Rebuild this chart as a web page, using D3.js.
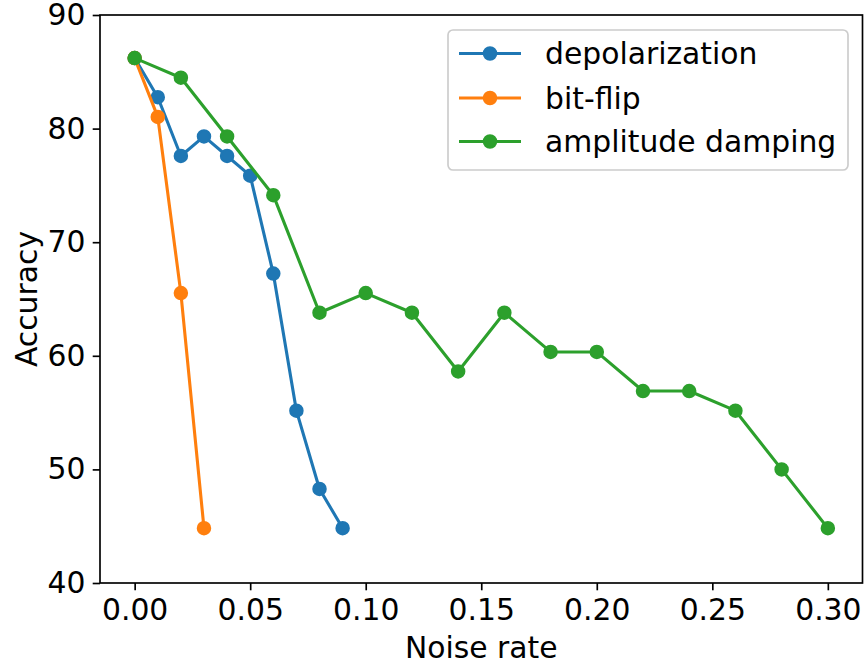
<!DOCTYPE html>
<html>
<head>
<meta charset="utf-8">
<script src="https://cdn.jsdelivr.net/npm/d3@7"></script>
<style>
  body { margin: 0; background: #fff; }
  svg { font-family: "DejaVu Sans", sans-serif; }
</style>
</head>
<body>
<div class="chart"></div>
<script>
// noise rates and accuracies
var depolRate = [0.00, 0.01, 0.02, 0.03, 0.04, 0.05, 0.06, 0.07, 0.08, 0.09];
var depolAcc  = [86.21, 82.76, 77.59, 79.31, 77.59, 75.86, 67.24, 55.17, 48.28, 44.83];

var bitRate = [0.00, 0.01, 0.02, 0.03];
var bitAcc  = [86.21, 81.03, 65.52, 44.83];

var ampRate = [0.00, 0.02, 0.04, 0.06, 0.08, 0.10, 0.12, 0.14, 0.16, 0.18, 0.20, 0.22, 0.24, 0.26, 0.28, 0.30];
var ampAcc  = [86.21, 84.48, 79.31, 74.14, 63.79, 65.52, 63.79, 58.62, 63.79, 60.34, 60.34, 56.90, 56.90, 55.17, 50.00, 44.83];

var seriesNames = ["depolarization", "bit-flip", "amplitude damping"];
var xTicks = [0.00, 0.05, 0.10, 0.15, 0.20, 0.25, 0.30];
var yTicks = [40, 50, 60, 70, 80, 90];

var colors = ["#1f77b4", "#ff7f0e", "#2ca02c"];

var W = 864, H = 666;
var mLeft = 100, mRight = 862.5, mTop = 15, mBottom = 583;
var fontSize = 29.8;

var svg = d3.select("div.chart")
            .append("svg")
            .attr("width", W)
            .attr("height", H);

var x = d3.scaleLinear().domain([-0.015, 0.315]).range([mLeft, mRight]);
var y = d3.scaleLinear().domain([40, 90]).range([mBottom, mTop]);

var series = [
  {name: seriesNames[0], xs: depolRate, ys: depolAcc, color: colors[0]},
  {name: seriesNames[1], xs: bitRate, ys: bitAcc, color: colors[1]},
  {name: seriesNames[2], xs: ampRate, ys: ampAcc, color: colors[2]}
];

var line = d3.line()
    .x(function(d){ return x(d[0]); })
    .y(function(d){ return y(d[1]); });

// lines + markers
series.forEach(function(s){
  var pts = s.xs.map(function(v, i){ return [v, s.ys[i]]; });
  svg.append("path")
      .datum(pts)
      .attr("d", line)
      .attr("fill", "none")
      .attr("stroke", s.color)
      .attr("stroke-width", 3.1)
      .attr("stroke-linejoin", "round")
      .attr("stroke-linecap", "square");
  svg.selectAll(null)
      .data(pts)
      .enter()
      .append("circle")
      .attr("cx", function(d){ return x(d[0]); })
      .attr("cy", function(d){ return y(d[1]); })
      .attr("r", 6.25)
      .attr("fill", s.color)
      .attr("stroke", s.color)
      .attr("stroke-width", 2);
});

// axes
var xAxis = d3.axisBottom(x)
    .tickValues(xTicks)
    .tickFormat(d3.format(".2f"))
    .tickSize(7.3)
    .tickPadding(7.3);
var yAxis = d3.axisLeft(y)
    .tickValues(yTicks)
    .tickFormat(d3.format("d"))
    .tickSize(7.3)
    .tickPadding(7.3);

var gx = svg.append("g")
    .attr("transform", "translate(0," + mBottom + ")")
    .call(xAxis);
var gy = svg.append("g")
    .attr("transform", "translate(" + mLeft + ",0)")
    .call(yAxis);

[gx, gy].forEach(function(g){
  g.select(".domain").remove();
  g.selectAll(".tick line").attr("stroke", "#000").attr("stroke-width", 1.67);
  g.selectAll(".tick text")
      .attr("fill", "#000")
      .style("font-size", fontSize + "px")
      .style("font-family", "DejaVu Sans");
});
gx.selectAll(".tick text").attr("dy", "0.76em");

// frame
svg.append("rect")
    .attr("x", mLeft)
    .attr("y", mTop)
    .attr("width", mRight - mLeft)
    .attr("height", mBottom - mTop)
    .attr("fill", "none")
    .attr("stroke", "#000")
    .attr("stroke-width", 1.67);

// axis labels
svg.append("text")
    .attr("x", (mLeft + mRight) / 2)
    .attr("y", 658)
    .attr("text-anchor", "middle")
    .style("font-size", fontSize + "px")
    .text("Noise rate");

svg.append("text")
    .attr("transform", "translate(37," + ((mTop + mBottom) / 2) + ") rotate(-90)")
    .attr("text-anchor", "middle")
    .style("font-size", fontSize + "px")
    .text("Accuracy");

// legend
var legend = svg.append("g");
legend.append("rect")
    .attr("x", 448)
    .attr("y", 30)
    .attr("width", 400)
    .attr("height", 140)
    .attr("rx", 5)
    .attr("fill", "#fff")
    .attr("fill-opacity", 0.8)
    .attr("stroke", "#cccccc")
    .attr("stroke-width", 1.67);

var rowY = [53.5, 98, 141.5];
series.forEach(function(s, i){
  legend.append("line")
      .attr("x1", 459).attr("x2", 521)
      .attr("y1", rowY[i]).attr("y2", rowY[i])
      .attr("stroke", s.color)
      .attr("stroke-width", 3.1);
  legend.append("circle")
      .attr("cx", 490)
      .attr("cy", rowY[i])
      .attr("r", 6.25)
      .attr("fill", s.color)
      .attr("stroke", s.color)
      .attr("stroke-width", 2);
  legend.append("text")
      .attr("x", 545)
      .attr("y", rowY[i])
      .attr("dy", "0.36em")
      .style("font-size", fontSize + "px")
      .text(s.name);
});
</script>
</body>
</html>
